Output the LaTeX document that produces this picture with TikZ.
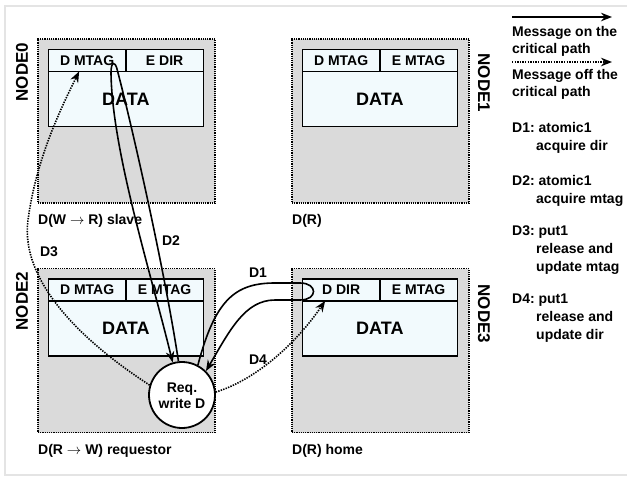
\documentclass[tikz,border=0pt]{standalone}
\usepackage{fontspec}
\setmainfont{Liberation Sans}
\usepackage{tikz}
\usetikzlibrary{positioning,arrows.meta}
\frenchspacing

\definecolor{boxgray}{RGB}{218,218,218}
\definecolor{cellblue}{RGB}{242,250,253}
\definecolor{framegray}{RGB}{228,228,228}

\tikzstyle{membox} = [rectangle, draw=black, fill=boxgray, line width=1.2pt, dash pattern=on 1.2pt off 1pt, minimum width=177pt, minimum height=164pt, inner sep=0pt]
\tikzstyle{hcell} = [rectangle, draw=black, fill=cellblue, line width=1.8pt, minimum width=77.5pt, minimum height=22pt, inner sep=0pt, outer sep=0pt, font=\fontsize{14}{16}\selectfont\bfseries]
\tikzstyle{dcell} = [hcell, minimum width=155pt, minimum height=55pt, font=\fontsize{18}{20}\selectfont\bfseries]
\tikzstyle{nodename} = [inner sep=0pt, font=\fontsize{17}{20}\selectfont\bfseries]
\tikzstyle{caption} = [anchor=base west, inner sep=0pt, font=\fontsize{14}{17}\selectfont\bfseries]
\tikzstyle{msglabel} = [inner sep=0pt, font=\fontsize{14}{17}\selectfont\bfseries]
\tikzstyle{legend} = [anchor=north west, inner sep=0pt, align=left, font=\fontsize{14}{17.5}\selectfont\bfseries]
\tikzstyle{steps} = [legend, font=\fontsize{14}{18}\selectfont\bfseries]
\tikzstyle{reqnode} = [circle, draw=black, fill=white, line width=1.8pt, minimum size=66pt, inner sep=0pt, align=center, font=\fontsize{14}{16}\selectfont\bfseries]
\tikzstyle{crit} = [line width=1.6pt, -{Stealth[length=11pt,width=8.5pt]}]
\tikzstyle{offcrit} = [crit, dash pattern=on 1.4pt off 1.2pt]

\begin{document}
\begin{tikzpicture}[x=1pt,y=-1pt]
\useasboundingbox (0,0) rectangle (627,477);
\draw [framegray, line width=1.5pt] (627,6) -- (5,6) -- (5,475) -- (627,475);

\node (box0) [membox] at (126.5,121) {};
\node (box1) [membox] at (380.5,121) {};
\node (box2) [membox] at (126.5,350.5) {};
\node (box3) [membox] at (380.5,350.5) {};

\node (h0a) [hcell, below right=11pt and 11pt of box0.north west] {D MTAG};
\node (h0b) [hcell, right=0pt of h0a] {E DIR};
\node (d0) [dcell, below right=0pt and 0pt of h0a.south west] {DATA};
\node (h1a) [hcell, below right=11pt and 11pt of box1.north west] {D MTAG};
\node (h1b) [hcell, right=0pt of h1a] {E MTAG};
\node (d1) [dcell, below right=0pt and 0pt of h1a.south west] {DATA};
\node (h2a) [hcell, below right=11pt and 11pt of box2.north west] {D MTAG};
\node (h2b) [hcell, right=0pt of h2a] {E MTAG};
\node (d2) [dcell, below right=0pt and 0pt of h2a.south west] {DATA};
\node (h3a) [hcell, below right=11pt and 11pt of box3.north west] {D DIR};
\node (h3b) [hcell, right=0pt of h3a] {E MTAG};
\node (d3) [dcell, below right=0pt and 0pt of h3a.south west] {DATA};

\node (name0) [nodename, rotate=90] at (22,72) {NODE0};
\node (name1) [nodename, rotate=-90] at (484,83) {NODE1};
\node (name2) [nodename, rotate=90] at (22,301) {NODE2};
\node (name3) [nodename, rotate=-90] at (484,314) {NODE3};

\node (cap0) [caption] at (38,224) {D(W $\rightarrow$ R) slave};
\node (cap1) [caption] at (292,224) {D(R)};
\node (cap2) [caption] at (38,454) {D(R $\rightarrow$ W) requestor};
\node (cap3) [caption] at (292,454) {D(R) home};

\node (req) [reqnode] at (182,395) {\mbox{}\\[-5pt]Req.\\write D};

\draw [crit] (req.96) .. controls (163,260) and (128,110) .. (117,69) .. controls (115,61) and (111,61) .. (111,73) .. controls (112,150) and (150,270) .. (req.106);
\draw [crit] (req.62) .. controls (215,300) and (235,283) .. (275,283) -- (300,283) .. controls (318,283) and (318,300) .. (300,300) -- (275,300) .. controls (245,300) and (230,330) .. (req.45);
\draw [offcrit] (req.163) .. controls (80,340) and (20,280) .. (28,220) .. controls (36,160) and (60,110) .. (h0a.234);
\draw [offcrit] (req.5) .. controls (255,380) and (295,345) .. ([xshift=-16pt]h3a.south);

\node (m1) [msglabel] at (258,273) {D1};
\node (m2) [msglabel] at (171,241) {D2};
\node (m3) [msglabel] at (49,252) {D3};
\node (m4) [msglabel] at (258,360) {D4};

\coordinate (on0) at (512,17);
\coordinate (on1) at (612,17);
\coordinate (off0) at (512,62);
\coordinate (off1) at (612,62);
\draw [crit] (on0) -- (on1);
\draw [offcrit] (off0) -- (off1);
\node (legon) [legend] at (512,26) {Message on the\\critical path};
\node (legoff) [legend] at (512,69) {Message off the\\critical path};

\node (step1) [steps] at (512,122) {D1: atomic1\\\hspace*{24pt}acquire dir};
\node (step2) [steps] at (512,175) {D2: atomic1\\\hspace*{24pt}acquire mtag};
\node (step3) [steps] at (512,226) {D3: put1\\\hspace*{24pt}release and\\\hspace*{24pt}update mtag};
\node (step4) [steps] at (512,294) {D4: put1\\\hspace*{24pt}release and\\\hspace*{24pt}update dir};
\end{tikzpicture}
\end{document}
